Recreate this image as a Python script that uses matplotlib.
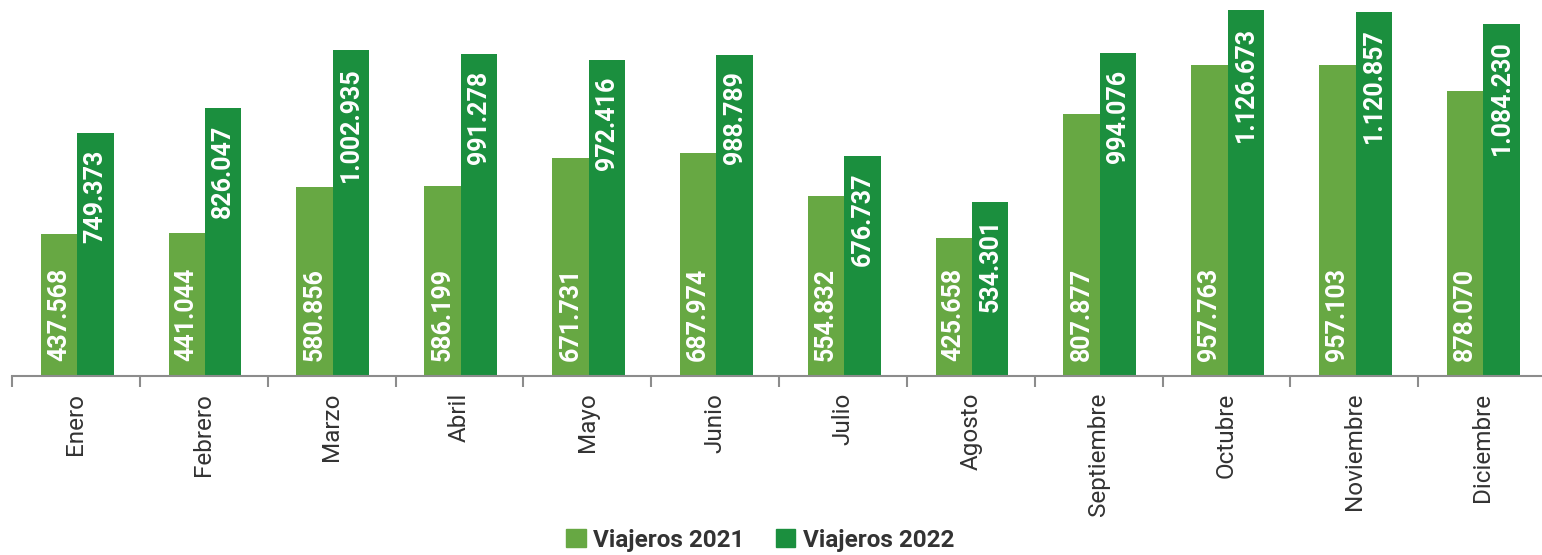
import numpy as np
import matplotlib.pyplot as plt
from matplotlib.patches import Patch

meses = ["Enero", "Febrero", "Marzo", "Abril", "Mayo", "Junio", "Julio",
         "Agosto", "Septiembre", "Octubre", "Noviembre", "Diciembre"]
viajeros_2021 = [437568, 441044, 580856, 586199, 671731, 687974, 554832,
                 425658, 807877, 957763, 957103, 878070]
viajeros_2022 = [749373, 826047, 1002935, 991278, 972416, 988789, 676737,
                 534301, 994076, 1126673, 1120857, 1084230]

c21 = "#67a843"
c22 = "#1b8f3e"

def fmt(v):
    return f"{v:,}".replace(",", ".")

plt.rcParams["font.family"] = ["Roboto", "DejaVu Sans"]

fig = plt.figure(figsize=(15.42, 5.55), dpi=100)
ax = fig.add_axes([12 / 1542, 179 / 555, 1534 / 1542, 376 / 555])

x = np.arange(len(meses))
w = 0.285
ax.bar(x - w / 2 + 0.01, viajeros_2021, w, color=c21)
ax.bar(x + w / 2 + 0.01, viajeros_2022, w, color=c22)

for i in range(len(meses)):
    ax.annotate(fmt(viajeros_2021[i]), (x[i] - w / 2 + 0.01, 0), xytext=(0, 11),
                textcoords="offset points", rotation=90, ha="center", va="bottom",
                color="white", fontsize=18, fontweight="bold")
    ax.annotate(fmt(viajeros_2022[i]), (x[i] + w / 2 + 0.01, viajeros_2022[i]),
                xytext=(0, -12), textcoords="offset points", rotation=90,
                ha="center", va="top", color="white", fontsize=18, fontweight="bold")

ax.set_xlim(-0.5, len(meses) - 0.5)
ax.set_ylim(0, 1.1575e6)

for s in ["top", "right", "left"]:
    ax.spines[s].set_visible(False)
ax.spines["bottom"].set_color("#8c8c8c")
ax.spines["bottom"].set_linewidth(1.5)
ax.set_yticks([])

ax.set_xticks(x)
ax.set_xticklabels(meses, rotation=90, fontsize=17.5, color="#333333")
ax.tick_params(axis="x", which="major", length=0, pad=12)
ax.set_xticks(np.arange(-0.5, len(meses)), minor=True)
ax.tick_params(axis="x", which="minor", length=8, width=1.5, color="#8c8c8c")

handles = [Patch(color=c21, label="Viajeros 2021"), Patch(color=c22, label="Viajeros 2022")]
fig.legend(handles=handles, loc="center", bbox_to_anchor=(760 / 1542, 1 - 540 / 555),
           ncol=2, frameon=False, prop={"size": 17.5, "weight": "bold"},
           handlelength=0.8, handleheight=0.8, handletextpad=0.3, columnspacing=1.3,
           labelcolor="#333333")

fig.savefig("out.png", dpi=100)
